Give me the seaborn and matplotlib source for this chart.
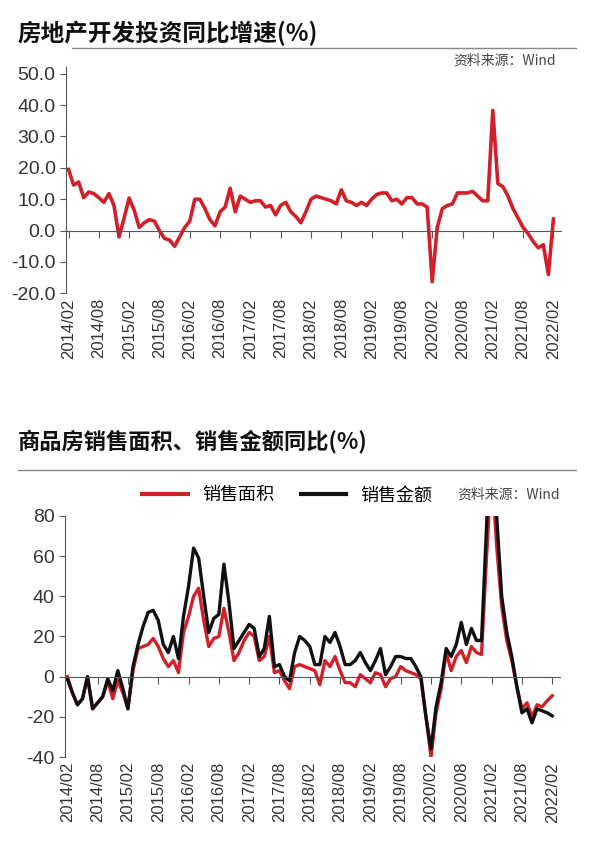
import numpy as np
import pandas as pd
import matplotlib
matplotlib.use("Agg")
import matplotlib.pyplot as plt
import seaborn as sns

plt.rcParams['font.family'] = ['Liberation Sans', 'Noto Sans CJK SC', 'DejaVu Sans']
plt.rcParams['axes.unicode_minus'] = False
CJK = 'Noto Sans CJK SC'

months = pd.period_range('2014-02', '2022-02', freq='M')
tick_labels = [p.strftime('%Y/%m') for p in months[::6]]

# 房地产开发投资同比 (%)
invest = [19.5, 14.5, 15.5, 10.5, 12.3, 11.8, 10.5, 9, 11.8, 8, -2, 4,
          10.4, 6.5, 1, 2.5, 3.5, 3, 0, -2.5, -3, -5, -2, 1,
          3, 10, 10, 7, 3.5, 1.5, 6, 7.5, 13.5, 6, 11, 10,
          9, 9.5, 9.5, 7.5, 8, 5, 8, 9, 6, 4.5, 2.5, 6,
          10, 11, 10.5, 10, 9.5, 8.5, 13, 9.5, 9, 8, 9, 8,
          10, 11.5, 12, 12, 9.5, 10, 8.5, 10.5, 10.5, 8.5, 8.5, 7.5,
          -16.3, 1, 7, 8, 8.5, 12, 12, 12, 12.5, 11, 9.5, 9.5,
          38.3, 15, 14, 11, 7, 4, 1, -1, -3.5, -5.5, -4.5, -14, 3.7]

# 销售面积 / 销售金额 同比 (%)
area = [0, -8, -14, -11, 0, -16, -13, -10, -2, -11, -2, -8,
        -16, 3, 14, 15, 16, 19, 15, 9, 5, 8, 2, 22,
        30, 40, 44, 28, 15, 19, 20, 34, 22, 8, 12, 18,
        22, 20, 8, 10, 20, 2, 3, -2, -6, 5, 6, 5,
        4, 3, -4, 8, 5, 10, 3, -3, -3, -5, 1, -1,
        -3, 2, 1, -5, -1, 0, 5, 3, 2, 1, -1, -20,
        -40, -18, -6, 12, 3, 10, 13, 7, 15, 12, 11, 60,
        104, 65, 35, 18, 8, -5, -16, -13, -20, -14, -15, -12, -9.5]
amount = [-1, -8, -14, -11, 0, -16, -13, -10, -1, -7, 3, -6,
          -16, 5, 16, 25, 32, 33, 28, 16, 12, 20, 9, 30,
          45, 64, 59, 40, 22, 29, 31, 56, 37, 14, 18, 22,
          26, 24, 10, 14, 30, 5, 6, 0, -2, 12, 20, 18,
          15, 6, 6, 20, 17, 22, 15, 6, 6, 8, 12, 7,
          3, 8, 14, 1, 5, 10, 10, 9, 9, 5, 0, -20,
          -36, -15, -3, 14, 10, 16, 27, 16, 24, 18, 18, 75,
          133, 80, 40, 22, 10, -5, -18, -16, -23, -16, -17, -18, -19.5]

x = np.arange(len(months))
RED = '#d0202a'
GREY = '#333333'

fig = plt.figure(figsize=(6, 8.43), dpi=100)
fig.patch.set_facecolor('white')


def style_axis(ax, yticks, fmt):
    for s in ['top', 'right']:
        ax.spines[s].set_visible(False)
    ax.spines['left'].set_color('#555555')
    ax.spines['bottom'].set_position(('data', 0))
    ax.spines['bottom'].set_color('#555555')
    ax.set_xticks(x[::6])
    ax.set_xticklabels([])
    ax.tick_params(axis='x', direction='out', length=5, color='#555555')
    ax.tick_params(axis='y', direction='out', length=4, color='#555555',
                   labelsize=14, labelcolor=GREY)
    ax.set_yticks(yticks)
    ax.set_yticklabels([fmt.format(v) for v in yticks])
    ax.set_xlim(-0.5, len(x) - 0.5 + 1)
    sec = ax.secondary_xaxis('bottom')
    sec.set_xticks(x[::6])
    sec.set_xticklabels(tick_labels, rotation=90, fontsize=12, color=GREY)
    sec.tick_params(length=0)
    sec.spines['bottom'].set_visible(False)
    ax.set_xlabel('')
    ax.set_ylabel('')


# top panel
fig.text(0.03, 0.975, '房地产开发投资同比增速(%)', fontsize=17, fontweight='bold',
         va='top', color='#111111', family=CJK)
fig.add_artist(plt.Line2D([0.12, 0.96], [0.943, 0.943], color='#888888', lw=1))
ax1 = fig.add_axes([0.11, 0.652, 0.825, 0.268])
sns.lineplot(x=x, y=invest, ax=ax1, color=RED, lw=2.6)
ax1.set_ylim(-20, 52)
style_axis(ax1, np.arange(-20, 51, 10), '{:.1f}')
ax1.text(0.99, 1.0, '资料来源：Wind', transform=ax1.transAxes, ha='right',
         va='bottom', fontsize=10, color='#444444', family=CJK)

# bottom panel
fig.text(0.03, 0.49, '商品房销售面积、销售金额同比(%)', fontsize=16, fontweight='bold',
         va='top', color='#111111', family=CJK)
fig.add_artist(plt.Line2D([0.03, 0.96], [0.443, 0.443], color='#888888', lw=1))
ax2 = fig.add_axes([0.108, 0.102, 0.825, 0.286])
df = pd.DataFrame({'x': np.concatenate([x, x]),
                   'v': area + amount,
                   's': ['销售面积'] * len(x) + ['销售金额'] * len(x)})
sns.lineplot(data=df, x='x', y='v', hue='s', palette=[RED, '#111111'],
             ax=ax2, lw=2.4, legend=False)
ax2.set_ylim(-40, 80)
style_axis(ax2, np.arange(-40, 81, 20), '{:.0f}')
ax2.plot([], [], color=RED, lw=3, label='销售面积')
ax2.plot([], [], color='#111111', lw=3, label='销售金额')
ax2.legend(loc='lower center', bbox_to_anchor=(0.45, 0.98), ncol=2, frameon=False,
           prop={'family': CJK, 'size': 13}, handlelength=2.5, columnspacing=1.5)
ax2.text(1.0, 1.06, '资料来源：Wind', transform=ax2.transAxes, ha='right',
         va='bottom', fontsize=10, color='#444444', family=CJK)

fig.savefig('out.png', dpi=100)
